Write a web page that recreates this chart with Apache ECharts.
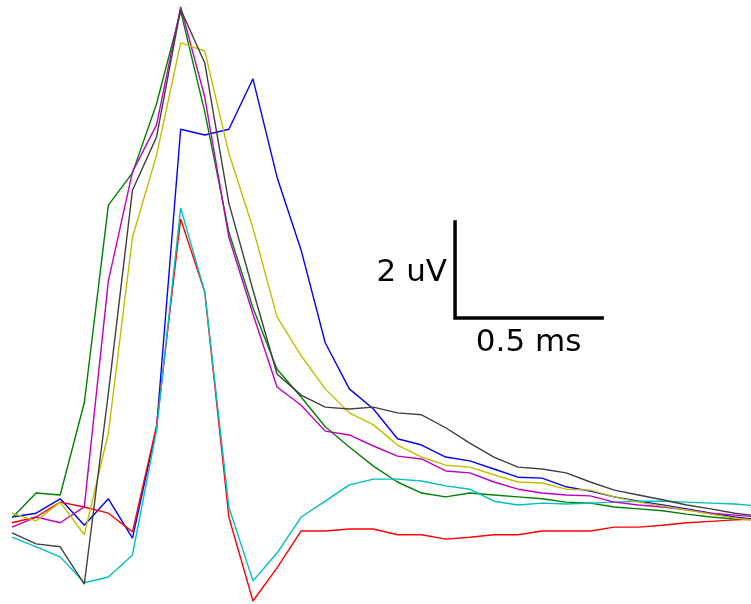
<!DOCTYPE html>
<html>
<head>
<meta charset="utf-8">
<title>Averaged evoked responses</title>
<script src="https://cdn.jsdelivr.net/npm/echarts@6/dist/echarts.min.js"></script>
<style>
  html, body { margin: 0; padding: 0; background: #ffffff; }
  #chart { width: 751px; height: 604px; }
</style>
</head>
<body>
<div id="chart"></div>
<script>
// Sample interval in ms (about 12.2 kHz sampling)
const sampleMs = 0.0819;

// Waveforms in microvolts, one value per sample
const traceBlue = [0.02, 0.10, 0.40, -0.15, 0.40, -0.42, 1.88, 8.10, 7.98, 8.10, 9.15, 7.10, 5.58, 3.65, 2.69, 2.27,
  1.65, 1.52, 1.27, 1.19, 1.02, 0.85, 0.83, 0.65, 0.56, 0.44, 0.35, 0.27, 0.19, 0.10, 0.02, -0.04];
const traceGreen = [0.00, 0.52, 0.48, 2.40, 6.52, 7.19, 8.63, 10.56, 8.46, 5.96, 4.38, 3.10, 2.52, 1.90, 1.48, 1.08,
  0.75, 0.52, 0.44, 0.52, 0.48, 0.44, 0.40, 0.33, 0.31, 0.23, 0.19, 0.15, 0.08, 0.02, -0.02, -0.04];
const traceRed = [-0.10, 0.02, 0.33, 0.23, 0.10, -0.29, 1.92, 6.23, 4.71, 0.02, -1.73, -1.04, -0.27, -0.27, -0.23, -0.23,
  -0.35, -0.35, -0.44, -0.40, -0.35, -0.35, -0.27, -0.27, -0.27, -0.19, -0.19, -0.15, -0.10, -0.07, -0.04, -0.02];
const traceCyan = [-0.40, -0.60, -0.81, -1.35, -1.23, -0.77, 1.83, 6.46, 4.71, 0.23, -1.31, -0.73, 0.02, 0.35, 0.69, 0.81,
  0.81, 0.77, 0.67, 0.60, 0.35, 0.27, 0.31, 0.29, 0.31, 0.33, 0.35, 0.35, 0.33, 0.31, 0.29, 0.25];
const traceMagenta = [-0.19, 0.02, -0.10, 0.23, 4.94, 7.21, 8.19, 10.65, 8.77, 5.85, 4.25, 2.73, 2.35, 1.81, 1.73, 1.50,
  1.29, 1.23, 0.98, 0.94, 0.75, 0.60, 0.52, 0.48, 0.46, 0.33, 0.27, 0.23, 0.17, 0.10, 0.06, 0.02];
const traceYellow = [0.10, -0.06, 0.33, -0.35, 1.77, 5.85, 7.56, 9.90, 9.73, 7.60, 6.04, 4.19, 3.38, 2.69, 2.19, 1.94,
  1.52, 1.27, 1.10, 1.06, 0.90, 0.75, 0.73, 0.60, 0.58, 0.44, 0.33, 0.25, 0.17, 0.08, 0.00, -0.06];
const traceBlack = [-0.31, -0.54, -0.60, -1.38, 2.60, 6.83, 7.94, 10.60, 9.48, 6.56, 4.75, 3.00, 2.56, 2.31, 2.27, 2.31,
  2.19, 2.15, 1.88, 1.56, 1.27, 1.06, 1.02, 0.94, 0.75, 0.58, 0.48, 0.38, 0.27, 0.19, 0.10, 0.04];

const traces = [traceBlue, traceGreen, traceRed, traceCyan, traceMagenta, traceYellow, traceBlack];
const traceColors = ['#0000ff', '#008000', '#ff0000', '#00bfbf', '#bf00bf', '#bfbf00', '#404040'];

// Scale bar: corner position (ms, uV) and lengths
const scaleBarCorner = [1.506, 4.167];
const scaleBarMs = 0.5;
const scaleBarUv = 2;
const scaleBarLabels = ['2 uV', '0.5 ms'];

const chart = echarts.init(document.getElementById('chart'), null, { renderer: 'canvas' });

const series = traces.map((vals, k) => ({
  type: 'line',
  data: vals.map((v, i) => [i * sampleMs, v]),
  showSymbol: false,
  symbol: 'none',
  clip: true,
  lineStyle: { color: traceColors[k], width: 1.4 },
  z: 2 + k,
  silent: true
}));

const [cx, cy] = scaleBarCorner;
series.push({
  type: 'line',
  data: [[cx, cy + scaleBarUv], [cx, cy], [cx + scaleBarMs, cy]],
  showSymbol: false,
  symbol: 'none',
  lineStyle: { color: '#000000', width: 3.5, join: 'miter', cap: 'square' },
  z: 20,
  silent: true
});

const labelFont = { color: '#000000', opacity: 1, fontSize: 31, fontFamily: 'DejaVu Sans', textBorderWidth: 0 };
series.push({
  type: 'scatter',
  symbolSize: 0,
  itemStyle: { opacity: 1 },
  data: [
    { value: [cx, cy + scaleBarUv / 2],
      label: Object.assign({ show: true, position: 'left', distance: 8, offset: [0, 3], formatter: scaleBarLabels[0] }, labelFont) },
    { value: [cx + scaleBarMs / 2, cy],
      label: Object.assign({ show: true, position: 'bottom', distance: 9, formatter: scaleBarLabels[1] }, labelFont) }
  ],
  label: Object.assign({ show: true }, labelFont),
  z: 21,
  silent: true
});

chart.setOption({
  animation: false,
  backgroundColor: '#ffffff',
  grid: { left: 12, right: 0, top: 0, bottom: 0, containLabel: false },
  xAxis: {
    type: 'value', min: 0, max: 2.512,
    show: false
  },
  yAxis: {
    type: 'value', min: -1.792, max: 10.792,
    show: false
  },
  series: series
});
</script>
</body>
</html>
